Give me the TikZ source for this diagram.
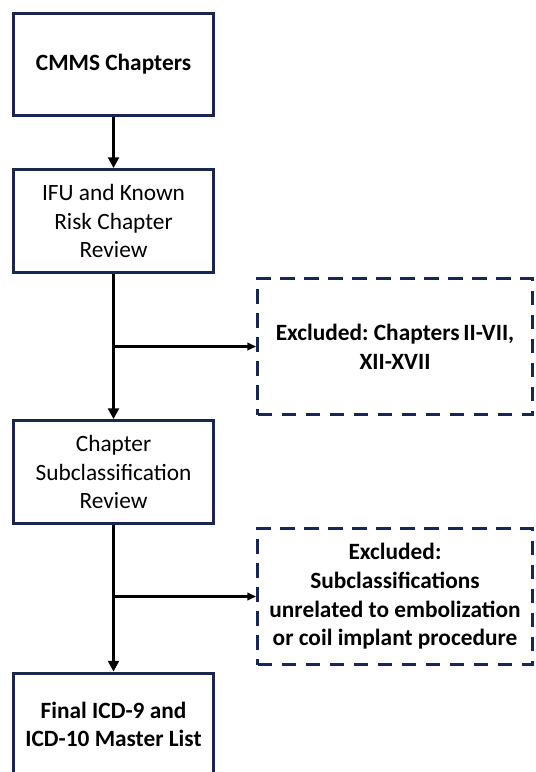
\documentclass[tikz,border=0pt]{standalone}
\usepackage{fontspec}
\setmainfont{Carlito}
\usetikzlibrary{shapes,arrows.meta}
\definecolor{navy}{RGB}{25,38,78}
\frenchspacing
\begin{document}
\begin{tikzpicture}[x=0.75pt,y=-0.75pt,
      every node/.style={align=center,font=\fontsize{17.5}{21.5}\selectfont},
      stepbox/.style={draw=navy,line width=2.3pt,minimum width=150pt,minimum height=77pt,inner sep=0pt},
      exclbox/.style={draw=navy,line width=2.3pt,dash pattern=on 11pt off 7pt,minimum width=206pt,minimum height=102pt,inner sep=0pt,font=\fontsize{17.5}{21.5}\selectfont\bfseries},
      flow/.style={draw,line width=2.2pt,-{Triangle[length=8pt,width=8pt]}},
      side/.style={draw,line width=1.6pt,-{Triangle[length=6.5pt,width=5.5pt]}}]
    \useasboundingbox (0,0) rectangle (536,772);
    \node[stepbox,font=\fontsize{17.5}{21.5}\selectfont\bfseries] (cmms) at (113.5,64.5) {CMMS Chapters};
    \node[stepbox] (ifu) at (113.5,221) {IFU and Known\\Risk Chapter\\Review};
    \node[stepbox] (subclass) at (113.5,472) {Chapter\\Subclassification\\Review};
    \node[stepbox,font=\fontsize{17.5}{21.5}\selectfont\bfseries] (final) at (113.5,724.5) {Final ICD-9 and\\ICD-10 Master List};
    \node[exclbox] (exclchap) at (395,346.5) {Excluded: Chapters\,II-VII,\\XII-XVII};
    \node[exclbox] (exclsub) at (395,596.5) {Excluded:\\Subclassifications\\unrelated to embolization\\or coil implant procedure};
    % main flow
    \draw[flow] (cmms) -- (ifu);
    \draw[flow] (ifu) -- (subclass);
    \draw[flow] (subclass) -- (final);
    % exclusions
    \draw[side] (ifu.south |- exclchap.west) -- (exclchap.west);
    \draw[side] (subclass.south |- exclsub.west) -- (exclsub.west);
\end{tikzpicture}
\end{document}
